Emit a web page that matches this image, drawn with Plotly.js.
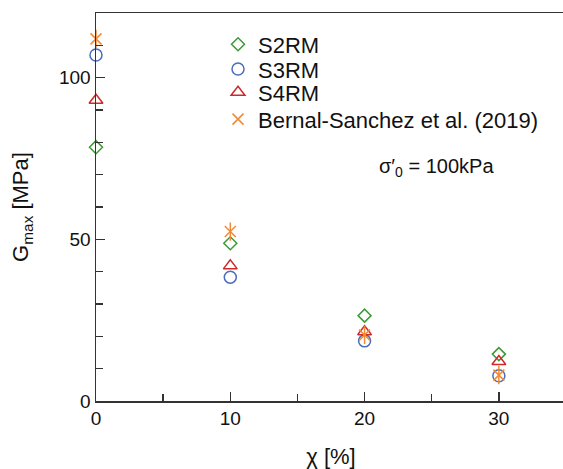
<!DOCTYPE html>
<html>
<head>
<meta charset="utf-8">
<script src="https://cdn.plot.ly/plotly-3.0.1.min.js"></script>
<style>
  html, body { margin: 0; padding: 0; overflow: hidden; background: #fff; }
  #chart { width: 570px; height: 469px; }
</style>
</head>
<body>
<div id="chart"></div>
<script>
// Fines content (%) and small-strain shear modulus (MPa)
const chi = [0, 10, 20, 30];
const gS2RM = [78.5, 48.8, 26.4, 14.5];
const gS3RM = [107, 38.3, 18.6, 7.8];
const gS4RM = [93, 41.8, 21.4, 12.2];
const gBernal = [112, 52.4, 20.4, 8.0];

const seriesNames = ["S2RM", "S3RM", "S4RM", "Bernal-Sanchez et al. (2019)"];

const FONT = "Arial, 'Liberation Sans', sans-serif";
const AXIS_COLOR = "#333333";
const TEXT_COLOR = "#111111";

function series(name, y, symbol, color, size, legendId) {
  return {
    type: "scatter",
    mode: "markers",
    name: name,
    legend: legendId,
    x: chi,
    y: y,
    cliponaxis: false,
    marker: {
      symbol: symbol,
      size: size,
      color: color,
      line: { color: color, width: 1.5 }
    }
  };
}

const ORANGE = "#f38a34";

// Star marker for the literature data: diagonal cross plus a vertical stroke
const bernalVertical = series("", gBernal, "line-ns-open", ORANGE, 13, "legend4");
bernalVertical.showlegend = false;

const data = [
  series(seriesNames[0], gS2RM, "diamond-open", "#3c9b35", 10, "legend"),
  series(seriesNames[1], gS3RM, "circle-open", "#4a6dbd", 12, "legend2"),
  series(seriesNames[2], gS4RM, "triangle-up-open", "#cf2a2a", 12, "legend3"),
  series(seriesNames[3], gBernal, "x-thin-open", ORANGE, 11, "legend4"),
  bernalVertical
];

// One legend entry per box so each row sits at its own height
function legendBox(y) {
  return {
    x: 0.2596, y: y, xanchor: "left", yanchor: "middle",
    bgcolor: "rgba(0,0,0,0)",
    borderwidth: 0,
    font: { family: FONT, size: 22, color: TEXT_COLOR }
  };
}

const layout = {
  width: 570,
  height: 469,
  margin: { l: 96, r: 4, t: 13, b: 68 },
  paper_bgcolor: "#ffffff",
  plot_bgcolor: "#ffffff",
  font: { family: FONT, size: 19, color: TEXT_COLOR },
  showlegend: true,
  legend: legendBox(0.919),
  legend2: legendBox(0.855),
  legend3: legendBox(0.795),
  legend4: legendBox(0.726),
  xaxis: {
    range: [0, 35],
    showgrid: false,
    zeroline: false,
    showline: true,
    mirror: true,
    linecolor: AXIS_COLOR,
    linewidth: 1.5,
    ticks: "inside",
    ticklen: 9,
    tickwidth: 1.5,
    tickcolor: AXIS_COLOR,
    tickvals: [0, 10, 20, 30],
    ticktext: ["0", "10", "20", "30"],
    tickfont: { family: FONT, size: 19, color: TEXT_COLOR },
    minor: { tickvals: [5, 15, 25], ticks: "inside", ticklen: 7, tickwidth: 1.5, tickcolor: AXIS_COLOR },
    title: { text: "χ [%]", font: { family: FONT, size: 22, color: TEXT_COLOR }, standoff: 21 }
  },
  yaxis: {
    range: [0, 120],
    showgrid: false,
    zeroline: false,
    showline: true,
    linecolor: AXIS_COLOR,
    linewidth: 1.5,
    ticks: "inside",
    ticklen: 9,
    tickwidth: 1.5,
    tickcolor: AXIS_COLOR,
    tickvals: [0, 50, 100],
    ticktext: ["0", "50", "100"],
    tickfont: { family: FONT, size: 19, color: TEXT_COLOR },
    minor: { tickvals: [10, 20, 30, 40, 60, 70, 80, 90, 110], ticks: "inside", ticklen: 7, tickwidth: 1.5, tickcolor: AXIS_COLOR },
    title: { text: "G<sub>max</sub> [MPa]", font: { family: FONT, size: 22, color: TEXT_COLOR }, standoff: 24 }
  },
  annotations: [{
    xref: "paper", yref: "paper",
    x: 0.597, y: 0.602, xanchor: "left", yanchor: "middle",
    showarrow: false,
    text: "σ′<sub>0</sub> = 100kPa",
    font: { family: FONT, size: 20, color: TEXT_COLOR }
  }]
};

Plotly.newPlot("chart", data, layout, { displayModeBar: false, staticPlot: true });
</script>
</body>
</html>
